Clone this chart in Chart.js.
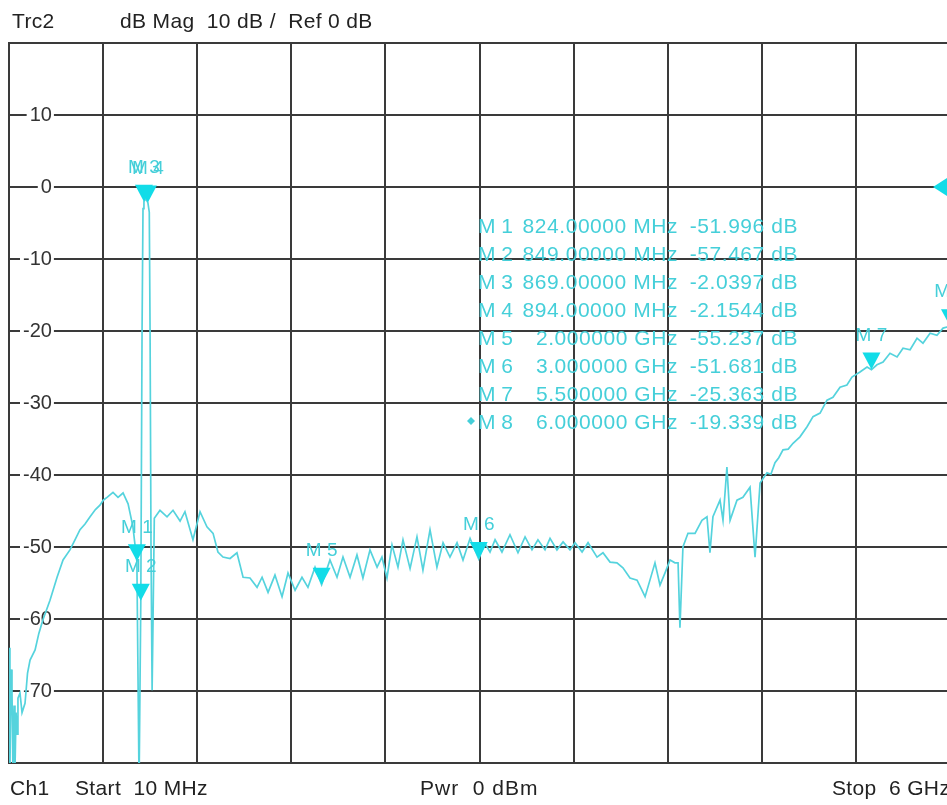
<!DOCTYPE html>
<html><head><meta charset="utf-8">
<script src="https://cdn.jsdelivr.net/npm/chart.js@4/dist/chart.umd.min.js"></script>
<style>
html,body{margin:0;padding:0;background:#fff;overflow:hidden;width:947px;height:805px;}
#wrap{position:absolute;left:0;top:0;width:960px;height:805px;}
</style></head><body>
<div id="wrap"><canvas id="c"></canvas></div>
<script>
// ---- data (frequency in MHz, magnitude in dB) ----
const freqMHz = [
  10, 16, 23, 29, 35, 42, 48, 55, 61, 67, 80, 93, 112, 128, 144, 176, 200, 226, 271, 316, 354, 398, 430, 462, 494, 526, 560, 589, 610, 634, 672, 704, 736, 768, 799,
  824, 838, 849, 857, 863, 869, 880, 894, 903, 908, 914, 921, 927, 935,
  971, 1016, 1054, 1099, 1130, 1181, 1226, 1270, 1309, 1340, 1372, 1417, 1461, 1500, 1544, 1589, 1621, 1659, 1703, 1748, 1786, 1831, 1875, 1913, 1958,
  2000, 2053, 2098, 2136, 2181, 2225, 2263, 2308, 2353, 2384, 2416, 2448, 2486, 2518, 2563, 2607, 2645, 2690, 2734, 2773, 2817, 2862, 2900, 2945,
  3000, 3040, 3072, 3104, 3148, 3199, 3250, 3295, 3339, 3377, 3422, 3454, 3498, 3537, 3581, 3613, 3658, 3696, 3753, 3791, 3836, 3880, 3918, 3963,
  4008, 4059, 4090, 4122, 4154, 4186, 4218, 4249, 4269, 4281, 4300, 4332, 4377, 4421, 4453, 4472, 4491, 4536, 4555, 4580, 4600, 4644, 4682, 4727, 4759, 4791,
  4835, 4860, 4886, 4910, 4937, 4970, 5001, 5045, 5090, 5128, 5173, 5217, 5255, 5300, 5344, 5376, 5427, 5472,
  5500, 5535, 5574, 5618, 5663, 5701, 5746, 5790, 5828, 5873, 5917, 5956, 6000
];
const magDB = [
  -64, -81, -67, -70, -81, -72, -81, -73, -76, -71, -70.3, -73, -71.7, -67.5, -65.7, -64.3, -62, -60.1, -57.4, -54.2, -51.8, -50.4, -49, -47.6, -46.8, -45.8, -44.8, -44.2, -43.5, -43.1, -42.4, -43.1, -42.5, -44, -47.2,
  -51.996, -83, -57.467, -20, -3, -2.0397, -1.6, -2.1544, -3.5, -20, -50, -69.9, -60, -46,
  -44.9, -45.8, -44.9, -46.4, -45.1, -49, -45.1, -47.2, -48.1, -50.7, -51.4, -51.6, -50.8, -54.2, -54.3, -55.6, -54.2, -56.3, -53.9, -56.9, -53.6, -56, -54.2, -55.6, -52.8,
  -55.237, -51.8, -54.2, -51.4, -54.2, -51.1, -54.3, -50.4, -52.8, -51.4, -54.3, -49.7, -52.8, -49, -53, -48.6, -53.2, -47.6, -52.8, -49.4, -51.4, -49.4, -51.8, -48.8,
  -51.681, -49.5, -50.7, -49, -50.7, -48.3, -50.8, -48.6, -50.4, -49, -50.4, -48.8, -50.4, -49.3, -50.4, -49.4, -50.7, -49.4, -51.4, -50.8, -52.1, -52.2, -52.9, -54.3,
  -54.6, -56.9, -54.6, -52.2, -55.3, -53.6, -51.8, -52.2, -52.2, -61.2, -50, -48.1, -48.1, -46.3, -45.8, -50.8, -45.8, -43.5, -46.3, -38.9, -46.3, -43.5, -43.1, -41.7, -51.4, -41.1,
  -39.7, -39.9, -38.3, -37.6, -36.5, -36.4, -35.6, -34.7, -33.3, -31.9, -31.4, -29.6, -29.2, -27.8, -27.5, -26.4, -25.7, -25,
  -25.363, -24.7, -24.3, -23.1, -23.6, -22.4, -22.6, -21, -21.7, -20.3, -20.6, -19.6, -19.339
];
const xGridMHz = [10, 609, 1208, 1807, 2406, 3005, 3604, 4203, 4802, 5401, 6000];
const markerNames = ['M 1', 'M 2', 'M 3', 'M 4', 'M 5', 'M 6', 'M 7', 'M 8'];
const markerFreqMHz = [824, 849, 869, 894, 2000, 3000, 5500, 6000];
const markerDB = [-51.996, -57.467, -2.0397, -2.1544, -55.237, -51.681, -25.363, -19.339];
const markerFreqText = ['824.00000 MHz', '849.00000 MHz', '869.00000 MHz', '894.00000 MHz', '2.000000 GHz', '3.000000 GHz', '5.500000 GHz', '6.000000 GHz'];
const markerDBText = ['-51.996 dB', '-57.467 dB', '-2.0397 dB', '-2.1544 dB', '-55.237 dB', '-51.681 dB', '-25.363 dB', '-19.339 dB'];
const activeMarker = 7;
const refLevelDB = 0;
const headerTexts = ['Trc2', 'dB Mag  10 dB /  Ref 0 dB'];
const footerTexts = ['Ch1', 'Start  10 MHz', 'Pwr  0 dBm', 'Stop  6 GHz'];

const FONT = "'Liberation Sans', Arial, sans-serif";
const TRACE = '#55d3dd';
const MARK = '#12dce8';
const MTEXT = '#45cfd9';
const GRID = '#3a3a3a';

const overlay = {
  id: 'overlay',
  afterDraw(chart) {
    const ctx = chart.ctx, xs = chart.scales.x, ys = chart.scales.y, a = chart.chartArea;
    ctx.save();
    // markers
    ctx.font = '19px ' + FONT;
    ctx.textAlign = 'center';
    ctx.textBaseline = 'middle';
    for (let i = 0; i < markerFreqMHz.length; i++) {
      const px = xs.getPixelForValue(markerFreqMHz[i]);
      const py = ys.getPixelForValue(markerDB[i]);
      ctx.fillStyle = MARK;
      ctx.beginPath();
      ctx.moveTo(px, py);
      ctx.lineTo(px - 9, py - 17);
      ctx.lineTo(px + 9, py - 17);
      ctx.closePath();
      ctx.fill();
      ctx.fillStyle = MTEXT;
      ctx.fillText(markerNames[i], px, py - 34);
    }
    // reference level arrow
    const ry = ys.getPixelForValue(refLevelDB);
    ctx.fillStyle = MARK;
    ctx.beginPath();
    ctx.moveTo(a.right - 17, ry);
    ctx.lineTo(a.right - 3, ry - 9);
    ctx.lineTo(a.right - 3, ry + 9);
    ctx.closePath();
    ctx.fill();
    // marker table
    ctx.font = '21px ' + FONT;
    ctx.textBaseline = 'alphabetic';
    ctx.fillStyle = MTEXT;
    for (let i = 0; i < markerNames.length; i++) {
      const by = 233 + i * 28;
      ctx.letterSpacing = '0px';
      ctx.textAlign = 'left';
      ctx.fillText(markerNames[i], 478, by);
      ctx.letterSpacing = '0.55px';
      ctx.textAlign = 'right';
      ctx.fillText(markerFreqText[i], 678, by);
      ctx.fillText(markerDBText[i], 798, by);
      if (i === activeMarker) {
        ctx.beginPath();
        ctx.moveTo(471, by - 12);
        ctx.lineTo(475, by - 8);
        ctx.lineTo(471, by - 4);
        ctx.lineTo(467, by - 8);
        ctx.closePath();
        ctx.fill();
      }
    }
    // header / footer
    ctx.fillStyle = '#222';
    ctx.textAlign = 'left';
    ctx.font = '21px ' + FONT;
    ctx.letterSpacing = '0.35px';
    ctx.fillText(headerTexts[0], 12, 28);
    ctx.fillText(headerTexts[1], 120, 28);
    ctx.fillText(footerTexts[0], 10, 795);
    ctx.fillText(footerTexts[1], 75, 795);
    ctx.letterSpacing = '1px';
    ctx.fillText(footerTexts[2], 420, 795);
    ctx.letterSpacing = '0.35px';
    ctx.fillText(footerTexts[3], 832, 795);
    ctx.restore();
  }
};

new Chart(document.getElementById('c'), {
  type: 'line',
  data: {
    datasets: [{
      data: freqMHz.map((f, i) => ({ x: f, y: magDB[i] })),
      borderColor: TRACE,
      borderWidth: 1.7,
      pointRadius: 0,
      tension: 0,
      fill: false
    }]
  },
  options: {
    animation: false,
    responsive: true,
    maintainAspectRatio: false,
    devicePixelRatio: 1,
    layout: { padding: { left: 9, right: 10, top: 43, bottom: 42 } },
    plugins: { legend: { display: false }, tooltip: { enabled: false } },
    scales: {
      x: {
        type: 'linear', min: 10, max: 6000,
        afterBuildTicks: (s) => { s.ticks = xGridMHz.map(v => ({ value: v })); },
        ticks: { display: false },
        grid: { color: GRID, lineWidth: 2, drawTicks: false },
        border: { color: GRID, width: 2 }
      },
      y: {
        min: -80, max: 20,
        afterFit: (s) => { s.width = 0; },
        ticks: {
          stepSize: 10, mirror: true, crossAlign: 'far', padding: 14,
          color: '#333', font: { family: FONT, size: 20 },
          callback: (v) => (v > -80 && v < 20) ? String(v) : '',
          showLabelBackdrop: (c) => !!(c.tick && c.tick.value > -80 && c.tick.value < 20),
          backdropColor: '#ffffff',
          backdropPadding: { left: 3, right: 2, top: 0, bottom: 0 }
        },
        grid: { color: GRID, lineWidth: 2, drawTicks: false },
        border: { color: GRID, width: 2 }
      }
    }
  },
  plugins: [overlay]
});
</script>
</body></html>
